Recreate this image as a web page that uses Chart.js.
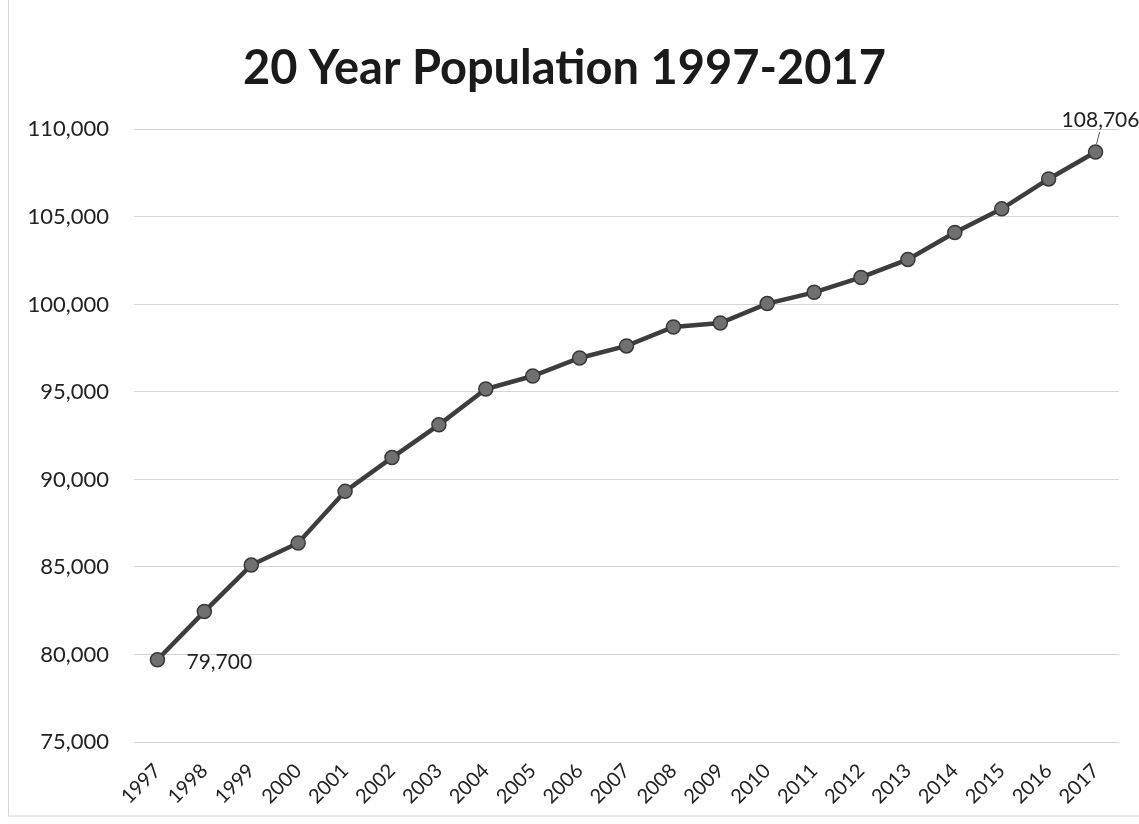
<!DOCTYPE html>
<html>
<head>
<meta charset="utf-8">
<title>20 Year Population 1997-2017</title>
<script src="https://cdn.jsdelivr.net/npm/chart.js@4.4.1/dist/chart.umd.min.js"></script>
<style>
  html, body { margin: 0; padding: 0; background: #fff; }
  #wrap { width: 1139px; height: 824px; }
</style>
</head>
<body>
<div id="wrap"><canvas id="popChart" width="1139" height="824"></canvas></div>
<script>
// data
const years = ["1997", "1998", "1999", "2000", "2001", "2002", "2003", "2004", "2005", "2006", "2007",
               "2008", "2009", "2010", "2011", "2012", "2013", "2014", "2015", "2016", "2017"];
const population = [79700, 82450, 85110, 86370, 89320, 91250, 93120, 95170, 95910, 96940, 97630,
                    98710, 98940, 100050, 100690, 101540, 102570, 104110, 105460, 107170, 108706];
const yTicks = [75000, 80000, 85000, 90000, 95000, 100000, 105000, 110000];

const fontFamily = "Lato, 'Open Sans', sans-serif";

// white background + faint frame
const backgroundPlugin = {
    id: "background",
    beforeDraw(chart) {
        const ctx = chart.ctx;
        ctx.save();
        ctx.fillStyle = "#fff";
        ctx.fillRect(0, 0, chart.width, chart.height);
        ctx.strokeStyle = "#d6d6d6";
        ctx.lineWidth = 1;
        ctx.strokeRect(8.5, -1, chart.width, 817);
        ctx.restore();
    }
};

// labels on first and last point
const endLabels = {
    id: "endLabels",
    afterDatasetsDraw(chart) {
        const ctx = chart.ctx;
        const meta = chart.getDatasetMeta(0);
        const first = meta.data[0];
        const last = meta.data[meta.data.length - 1];
        const fmt = v => v.toLocaleString("en-US");
        ctx.save();
        ctx.font = "21px " + fontFamily;
        ctx.fillStyle = "#222";
        ctx.textBaseline = "middle";

        ctx.textAlign = "left";
        ctx.fillText(fmt(population[0]), first.x + 29, first.y + 2);

        ctx.textAlign = "center";
        ctx.fillText(fmt(population[population.length - 1]), last.x + 5, last.y - 32);

        // leader line
        ctx.strokeStyle = "#595959";
        ctx.lineWidth = 1;
        ctx.beginPath();
        ctx.moveTo(last.x + 4, last.y - 20);
        ctx.lineTo(last.x + 1, last.y - 8);
        ctx.stroke();
        ctx.restore();
    }
};

const popChart = new Chart(document.getElementById("popChart"), {
    type: "line",
    data: {
        labels: years,
        datasets: [{
            label: "Population",
            data: population,
            borderColor: "#3d3d3d",
            borderWidth: 4.5,
            pointRadius: 7,
            pointBackgroundColor: "#707070",
            pointBorderColor: "#383838",
            pointBorderWidth: 1.5,
            tension: 0
        }]
    },
    options: {
        responsive: false,
        animation: false,
        layout: { padding: { left: 10, right: 20, top: 0, bottom: 0 } },
        plugins: {
            legend: { display: false },
            tooltip: { enabled: false },
            title: {
                display: true,
                text: "20 Year Population 1997-2017",
                color: "#1a1a1a",
                font: { family: fontFamily, size: 47, weight: "bold" },
                padding: { top: 41, bottom: 32 }
            }
        },
        scales: {
            x: {
                offset: true,
                grid: { display: false },
                border: { display: false },
                ticks: {
                    color: "#222",
                    font: { family: fontFamily, size: 20 },
                    minRotation: 45,
                    maxRotation: 45,
                    autoSkip: false,
                    padding: 9
                },
                afterFit(scale) { scale.height = 82; }
            },
            y: {
                min: 75000,
                max: 110000,
                grid: { color: "#d4d4d4", lineWidth: 1, drawTicks: false },
                border: { display: false },
                afterBuildTicks(scale) {
                    scale.ticks = yTicks.map(v => ({ value: v }));
                },
                ticks: {
                    color: "#222",
                    font: { family: fontFamily, size: 22 },
                    padding: 25,
                    callback: v => v.toLocaleString("en-US")
                },
                afterFit(scale) { scale.width = 124; }
            }
        }
    },
    plugins: [backgroundPlugin, endLabels]
});
</script>
</body>
</html>
